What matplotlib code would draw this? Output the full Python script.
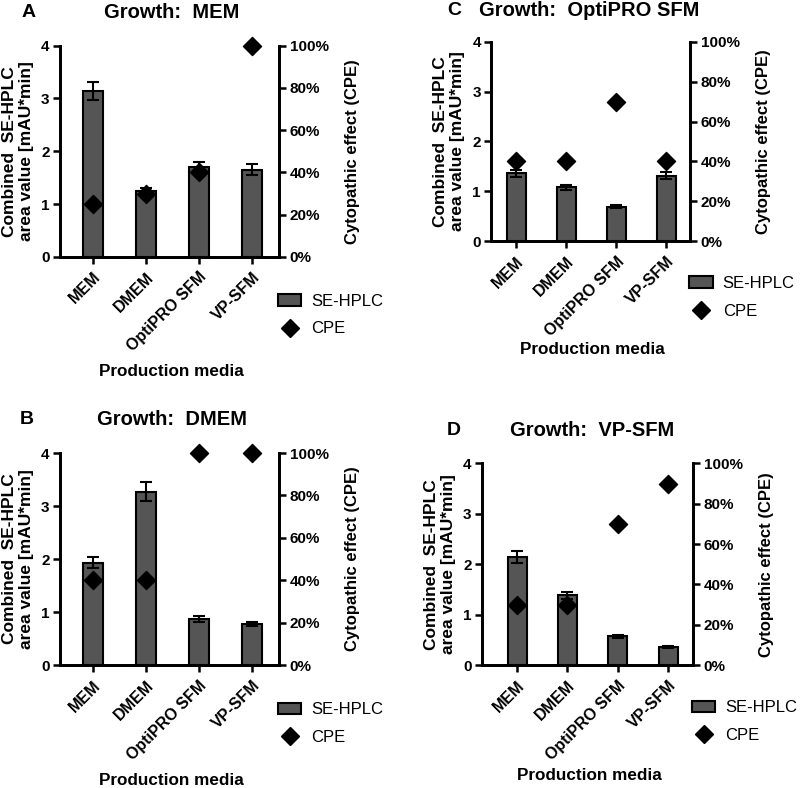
import matplotlib.pyplot as plt
from matplotlib.lines import Line2D
from matplotlib.patches import Patch
from matplotlib.ticker import PercentFormatter

plt.rcParams['font.family'] = ['Liberation Sans', 'DejaVu Sans']
plt.rcParams['font.weight'] = 'bold'

media = ['MEM', 'DMEM', 'OptiPRO SFM', 'VP-SFM']

# SE-HPLC combined area value [mAU*min], mean and error
hplc_mem = [3.15, 1.25, 1.70, 1.65]
err_mem = [0.17, 0.06, 0.10, 0.10]
hplc_dmem = [1.93, 3.27, 0.87, 0.77]
err_dmem = [0.10, 0.18, 0.05, 0.04]
hplc_opti = [1.36, 1.08, 0.69, 1.31]
err_opti = [0.07, 0.05, 0.03, 0.07]
hplc_vp = [2.14, 1.38, 0.57, 0.35]
err_vp = [0.12, 0.07, 0.03, 0.02]

# cytopathic effect in %
cpe_mem = [25, 30, 40, 100]
cpe_dmem = [40, 40, 100, 100]
cpe_opti = [40, 40, 70, 40]
cpe_vp = [30, 30, 70, 90]

# letter, title, data, axes rect, xlim, letter x, title center x, title y
panels = [
    ('A', 'Growth:  MEM', hplc_mem, err_mem, cpe_mem,
     [0.075, 0.674, 0.274, 0.268], (-0.62, 3.51), 0.027, 0.215, 0.984),
    ('C', 'Growth:  OptiPRO SFM', hplc_opti, err_opti, cpe_opti,
     [0.614, 0.694, 0.249, 0.253], (-0.5, 3.48), 0.559, 0.737, 0.987),
    ('B', 'Growth:  DMEM', hplc_dmem, err_dmem, cpe_dmem,
     [0.075, 0.156, 0.274, 0.269], (-0.62, 3.51), 0.025, 0.215, 0.4676),
    ('D', 'Growth:  VP-SFM', hplc_vp, err_vp, cpe_vp,
     [0.6025, 0.156, 0.264, 0.256], (-0.7, 3.5), 0.559, 0.74, 0.4537),
]

fig = plt.figure(figsize=(8, 7.88), dpi=100)

for letter, title, vals, errs, cpe, rect, xlim, lx, tx, ty in panels:
    ax = fig.add_axes(rect)
    x = range(len(media))
    ax.bar(x, vals, width=0.38, color='#555555', edgecolor='black', linewidth=1.5,
           yerr=errs, capsize=4, error_kw={'elinewidth': 1.5, 'capthick': 1.5, 'ecolor': 'black'},
           zorder=2)
    ax.set_xlim(*xlim)
    ax.set_ylim(0, 4)
    ax.set_yticks([0, 1, 2, 3, 4])
    ax.set_xticks(list(x))
    ax.set_xticklabels(media, rotation=45, ha='right', rotation_mode='anchor')
    ax.tick_params(axis='y', width=1.8, length=5, pad=2.5, labelsize=11)
    ax.tick_params(axis='x', width=1.8, length=5, pad=4, labelsize=11.5)
    ax.spines['top'].set_visible(False)
    for s in ['left', 'bottom', 'right']:
        ax.spines[s].set_linewidth(2)
    ax.set_ylabel('Combined  SE-HPLC\narea value [mAU*min]', fontsize=12.5, fontweight='bold', labelpad=5)
    ax.set_xlabel('Production media', fontsize=12.3, fontweight='bold', va='center')
    ax.xaxis.set_label_coords(0.51, -0.545)

    ax2 = ax.twinx()
    ax2.scatter(list(x), cpe, marker='D', s=85, color='black', zorder=3, clip_on=False)
    ax2.set_ylim(0, 100)
    ax2.set_yticks([0, 20, 40, 60, 80, 100])
    ax2.yaxis.set_major_formatter(PercentFormatter(decimals=0))
    ax2.tick_params(axis='y', width=1.8, length=5, pad=2.5, labelsize=11)
    ax2.spines['top'].set_visible(False)
    for s in ['left', 'bottom', 'right']:
        ax2.spines[s].set_linewidth(2)
    ax2.set_ylabel('Cytopathic effect (CPE)', fontsize=12, fontweight='bold', labelpad=12)

    handles = [Patch(facecolor='#555555', edgecolor='black', linewidth=1.5),
               Line2D([], [], marker='D', color='black', linestyle='none', markersize=9)]
    ax2.legend(handles, ['SE-HPLC', 'CPE'], loc='upper left', bbox_to_anchor=(0.995, -0.175),
               frameon=False, borderaxespad=0, borderpad=0, prop={'weight': 'normal', 'size': 12},
               handlelength=1.4, handletextpad=0.6, labelspacing=0.75)

    fig.text(lx, ty, letter, fontsize=14, fontweight='bold', va='center')
    fig.text(tx, ty, title, fontsize=14.5, fontweight='bold', va='center', ha='center')

fig.savefig('out.png', dpi=100)
